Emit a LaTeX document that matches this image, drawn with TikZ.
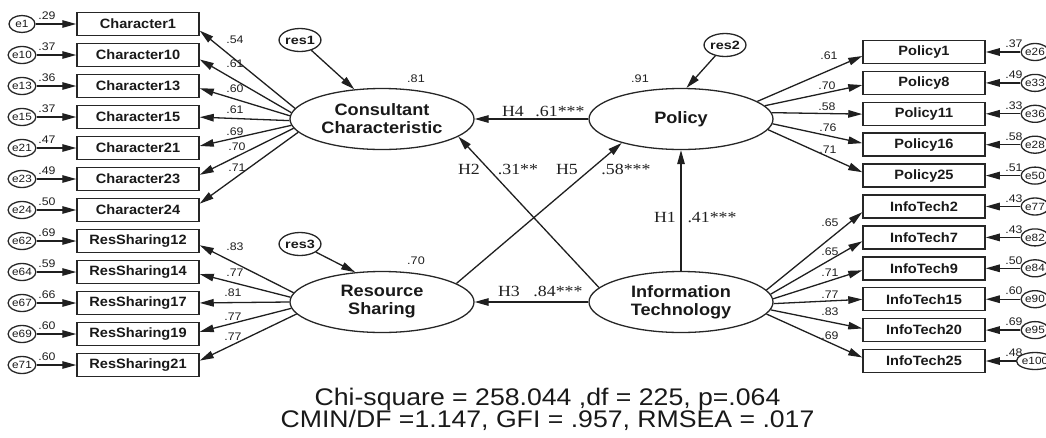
\documentclass[tikz,border=0pt]{standalone}
\usepackage{fontspec}
\usepackage{graphicx}
\setmainfont{Liberation Sans}
\newfontfamily\hypfont{Liberation Serif}
\usetikzlibrary{arrows.meta,shapes.geometric,calc}
% horizontally widened text
\newcommand{\wx}[2]{\scalebox{#1}[1]{#2}}
\tikzset{
  ln/.style={line width=1.3pt,draw=black!88},
  arr/.style={ln,-{Triangle[length=14pt,width=7.5pt]}},
  obs/.style={draw=black!85,line width=1.5pt,rectangle,minimum width=122pt,minimum height=23pt,inner sep=0pt,
    text=black!90,font=\bfseries\fontsize{13.5}{14}\selectfont},
  lat/.style={draw=black!85,line width=1.3pt,ellipse,minimum width=184pt,minimum height=61pt,inner sep=0pt,
    align=center,text=black!90,font=\bfseries\fontsize{16.5}{18}\selectfont},
  err/.style={draw=black!85,line width=1.3pt,ellipse,minimum width=26pt,minimum height=17pt,inner sep=0pt,
    text=black!90,font=\fontsize{10.5}{10.5}\selectfont},
  res/.style={draw=black!85,line width=1.3pt,ellipse,minimum width=40pt,minimum height=23pt,inner sep=0pt,
    text=black!90,font=\bfseries\fontsize{12}{12}\selectfont},
  coef/.style={inner sep=0pt,text=black!88,font=\fontsize{11}{11}\selectfont},
  hyp/.style={inner sep=0pt,text=black!88,font=\hypfont\fontsize{15.5}{15.5}\selectfont},
  fit text/.style={inner sep=0pt,anchor=base,text=black!90,font=\fontsize{24}{24}\selectfont},
}
\begin{document}
\begin{tikzpicture}[x=1pt,y=-1pt]
\useasboundingbox (0,0) rectangle (1046,437);

% latent constructs
\node[lat] (CC)  at (382,119) {\wx{1.1}{Consultant}\\\wx{1.1}{Characteristic}};
\node[lat] (RS)  at (382,302) {\wx{1.1}{Resource}\\\wx{1.1}{Sharing}};
\node[lat] (Pol) at (681,119) {\wx{1.1}{Policy}};
\node[lat] (IT)  at (681,302) {\wx{1.1}{Information}\\\wx{1.1}{Technology}};

% residuals of the endogenous constructs
\node[res] (res1) at (300,40)  {\wx{1.2}{res1}};
\node[res] (res2) at (725,45)  {\wx{1.2}{res2}};
\node[res] (res3) at (300,244) {\wx{1.2}{res3}};
\draw[arr] (res1) -- (CC.133);
\draw[arr] (res2) -- (Pol.80);
\draw[arr] (res3) -- (RS.132);
\node[coef] (sq1) at (416,79)  {\wx{1.15}{.81}};
\node[coef] (sq2) at (640,79)  {\wx{1.15}{.91}};
\node[coef] (sq3) at (416,261) {\wx{1.15}{.70}};

% Consultant Characteristic indicators
\foreach \nm/\tx/\en/\ev/\lv/\lx/\ly/\an [count=\i from 0] in {
  c1/Character1/e1/.29/.54/235/40/173,
  c10/Character10/e10/.37/.61/235/64/176,
  c13/Character13/e13/.36/.60/235/89/178,
  c15/Character15/e15/.37/.61/235/110/181,
  c21/Character21/e21/.47/.69/235/132/184,
  c23/Character23/e23/.49/.70/237/147/186,
  c24/Character24/e24/.50/.71/237/168/189}
{
  \pgfmathsetmacro\yy{24+31*\i}
  \node[obs] (\nm) at (138,\yy) {\wx{1.08}{\tx}};
  \node[err] (\en) at (22,\yy) {\wx{1.12}{\en}};
  \draw[arr] (\en) -- (\nm);
  \node[coef] (v\en) at (47,\yy-8) {\wx{1.12}{\ev}};
  \draw[arr] (CC.\an) -- ($(\nm.east)+(0,{0.07*(119-\yy)})$);
  \node[coef] (l\nm) at (\lx,\ly) {\wx{1.12}{\lv}};
}

% Resource Sharing indicators
\foreach \nm/\tx/\en/\ev/\lv/\lx/\ly/\an [count=\i from 0] in {
  r12/ResSharing12/e62/.69/.83/235/247/174,
  r14/ResSharing14/e64/.59/.77/235/273/177,
  r17/ResSharing17/e67/.66/.81/233/293/180,
  r19/ResSharing19/e69/.60/.77/233/317/184,
  r21/ResSharing21/e71/.60/.77/233/337/188}
{
  \pgfmathsetmacro\yy{241+31*\i}
  \node[obs] (\nm) at (138,\yy) {\wx{1.08}{\tx}};
  \node[err] (\en) at (22,\yy) {\wx{1.12}{\en}};
  \draw[arr] (\en) -- (\nm);
  \node[coef] (v\en) at (47,\yy-8) {\wx{1.12}{\ev}};
  \draw[arr] (RS.\an) -- ($(\nm.east)+(0,{0.07*(302-\yy)})$);
  \node[coef] (l\nm) at (\lx,\ly) {\wx{1.12}{\lv}};
}

% Policy indicators
\foreach \nm/\tx/\en/\ev/\lv/\lx/\ly/\an [count=\i from 0] in {
  p1/Policy1/e26/.37/.61/829/56/13,
  p8/Policy8/e33/.49/.70/827/86/9,
  p11/Policy11/e36/.33/.58/827/107/4,
  p16/Policy16/e28/.58/.76/828/128/357,
  p25/Policy25/e50/.51/.71/828/150/353}
{
  \pgfmathsetmacro\yy{52+30.9*\i}
  \node[obs] (\nm) at (924,\yy) {\wx{1.08}{\tx}};
  \node[err] (\en) at (1035,\yy) {\wx{1.12}{\en}};
  \draw[arr] (\en) -- (\nm);
  \node[coef] (v\en) at (1014,\yy-8) {\wx{1.12}{\ev}};
  \draw[arr] (Pol.\an) -- ($(\nm.west)+(0,{0.06*(119-\yy)})$);
  \node[coef] (l\nm) at (\lx,\ly) {\wx{1.12}{\lv}};
}

% Information Technology indicators
\foreach \nm/\tx/\en/\ev/\lv/\lx/\ly/\an [count=\i from 5] in {
  t2/InfoTech2/e77/.43/.65/830/223/8,
  t7/InfoTech7/e82/.43/.65/830/252/5,
  t9/InfoTech9/e84/.50/.71/830/273/2,
  t15/InfoTech15/e90/.60/.77/830/295/359,
  t20/InfoTech20/e95/.69/.83/830/312/355,
  t25/InfoTech25/e100/.48/.69/830/336/352}
{
  \pgfmathsetmacro\yy{52+30.9*\i}
  \node[obs] (\nm) at (924,\yy) {\wx{1.08}{\tx}};
  \node[err] (\en) at (1035,\yy) {\wx{1.12}{\en}};
  \draw[arr] (\en) -- (\nm);
  \node[coef] (v\en) at (1014,\yy-8) {\wx{1.12}{\ev}};
  \draw[arr] (IT.\an) -- ($(\nm.west)+(0,{0.06*(302-\yy)})$);
  \node[coef] (l\nm) at (\lx,\ly) {\wx{1.12}{\lv}};
}

% structural paths
\draw[arr] (Pol) -- (CC);
\draw[arr] (IT) -- (RS);
\draw[arr] (IT) -- (Pol);
\draw[arr] (IT.170) -- (CC.347);
\draw[arr] (RS.14) -- (Pol.202);

\node[hyp] (h4)  at (513,111) {\wx{1.15}{H4}};
\node[hyp] (b4)  at (560,111) {\wx{1.15}{.61***}};
\node[hyp] (h3)  at (509,291) {\wx{1.15}{H3}};
\node[hyp] (b3)  at (558,291) {\wx{1.15}{.84***}};
\node[hyp] (h2)  at (469,169) {\wx{1.15}{H2}};
\node[hyp] (b2)  at (518,169) {\wx{1.15}{.31**}};
\node[hyp] (h5)  at (567,169) {\wx{1.15}{H5}};
\node[hyp] (b5)  at (626,169) {\wx{1.15}{.58***}};
\node[hyp] (h1)  at (665,217) {\wx{1.15}{H1}};
\node[hyp] (b1)  at (712,217) {\wx{1.15}{.41***}};

% model fit
\node[fit text] (chi)  at (547.5,405) {\wx{1.11}{Chi-square = 258.044 ,df = 225, p=.064}};
\node[fit text] (cmin) at (547.5,427) {\wx{1.11}{CMIN/DF =1.147, GFI = .957, RMSEA = .017}};
\end{tikzpicture}
\end{document}
